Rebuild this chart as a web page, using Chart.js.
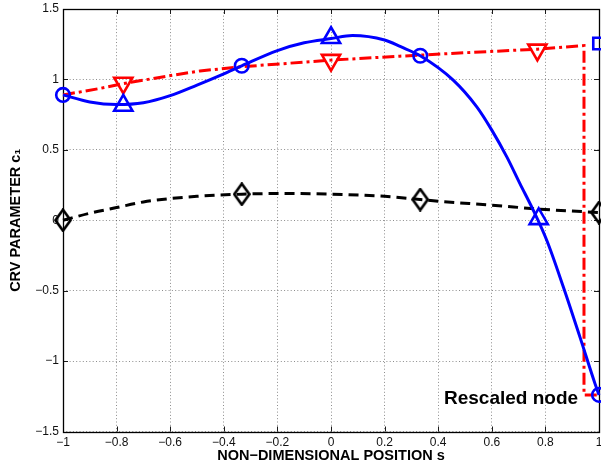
<!DOCTYPE html>
<html><head><meta charset="utf-8">
<script src="https://cdn.jsdelivr.net/npm/chart.js@4.4.0/dist/chart.umd.min.js"></script>
<style>html,body{margin:0;padding:0;background:#fff;overflow:hidden}#wrap{width:601px;height:466px}</style>
</head><body><div id="wrap"><canvas id="c" width="601" height="466"></canvas></div>
<script>
// ---- tick values / labels ----
const xTickValues = [-1, -0.8, -0.6, -0.4, -0.2, 0, 0.2, 0.4, 0.6, 0.8, 1];
const xTickLabels = ['−1', '−0.8', '−0.6', '−0.4', '−0.2', '0', '0.2', '0.4', '0.6', '0.8', '1'];
const yTickValues = [-1.5, -1, -0.5, 0, 0.5, 1, 1.5];
const yTickLabels = ['−1.5', '−1', '−0.5', '0', '0.5', '1', '1.5'];
const xTitle = 'NON−DIMENSIONAL POSITION s';
const yTitle = 'CRV PARAMETER c₁';
const noteText = 'Rescaled node';

// ---- blue solid curve ----
const blueS = [-1, -0.9, -0.8, -0.7, -0.6, -0.5, -0.4, -0.333, -0.2, -0.1, 0, 0.08, 0.2, 0.26, 0.333, 0.456, 0.544, 0.6, 0.656, 0.705, 0.755, 0.805, 0.867, 0.929, 0.985, 1];
const blueC = [0.89, 0.84, 0.822, 0.835, 0.885, 0.96, 1.04, 1.097, 1.205, 1.26, 1.29, 1.312, 1.28, 1.232, 1.168, 0.995, 0.805, 0.64, 0.45, 0.26, 0.07, -0.142, -0.474, -0.83, -1.16, -1.24];
const blueCircleS = [-1, -0.333, 0.333, 1];
const blueCircleC = [0.89, 1.097, 1.168, -1.24];
const blueTriS = [-0.775, 0, 0.775];
const blueTriC = [0.815, 1.296, 0.01];
const blueSquareS = [1];
const blueSquareC = [1.255];

// ---- red dash-dot line ----
const redS = [-1, -0.862, -0.775, -0.613, -0.489, -0.333, 0, 0.257, 0.506, 0.77, 0.944, 0.944, 1];
const redC = [0.89, 0.936, 0.97, 1.023, 1.06, 1.09, 1.137, 1.165, 1.19, 1.215, 1.24, -1.24, -1.24];
const redTriS = [-0.775, 0, 0.77];
const redTriC = [0.975, 1.137, 1.21];

// ---- black dashed curve ----
const blackS = [-1, -0.9, -0.8, -0.7, -0.6, -0.5, -0.333, -0.2, 0, 0.2, 0.333, 0.4, 0.6, 0.8, 1];
const blackC = [0, 0.05, 0.09, 0.13, 0.154, 0.17, 0.185, 0.19, 0.185, 0.17, 0.147, 0.135, 0.107, 0.076, 0.055];
const blackDiaS = [-1, -0.333, 0.333, 1];
const blackDiaC = [0, 0.185, 0.147, 0.055];

const pts = (xs, ys) => xs.map((x, i) => ({x: x, y: ys[i]}));

// tall diamond marker
const dia = document.createElement('canvas');
dia.width = 18; dia.height = 24;
(function(){
  const g = dia.getContext('2d');
  g.strokeStyle = '#000'; g.lineWidth = 2.6; g.lineJoin = 'miter';
  g.beginPath();
  g.moveTo(9, 1.5); g.lineTo(16.5, 12); g.lineTo(9, 22.5); g.lineTo(1.5, 12); g.closePath();
  g.stroke();
})();

const FONT = '"Liberation Sans", Arial, Helvetica, sans-serif';

const boxPlugin = {
  id: 'box',
  beforeDatasetsDraw(chart) {
    const {ctx, chartArea: a, scales} = chart;
    ctx.save();
    ctx.strokeStyle = '#1a1a1a';
    ctx.lineWidth = 1;
    ctx.beginPath();
    xTickValues.forEach(v => {
      const px = Math.round(scales.x.getPixelForValue(v)) + 0.5;
      ctx.moveTo(px, a.bottom); ctx.lineTo(px, a.bottom - 5);
      ctx.moveTo(px, a.top); ctx.lineTo(px, a.top + 5);
    });
    yTickValues.forEach(v => {
      const py = Math.round(scales.y.getPixelForValue(v)) + 0.5;
      ctx.moveTo(a.left, py); ctx.lineTo(a.left + 5, py);
      ctx.moveTo(a.right, py); ctx.lineTo(a.right - 5, py);
    });
    ctx.stroke();
    ctx.lineWidth = 1.3;
    ctx.strokeStyle = '#000';
    ctx.strokeRect(Math.round(a.left) + 0.5, Math.round(a.top) + 0.5, Math.round(a.right - a.left), Math.round(a.bottom - a.top));
    ctx.restore();
  },
  afterDraw(chart) {
    const {ctx, scales} = chart;
    ctx.save();
    ctx.font = 'bold 19px ' + FONT;
    ctx.fillStyle = '#000';
    ctx.textAlign = 'right';
    ctx.textBaseline = 'middle';
    ctx.fillText(noteText, scales.x.getPixelForValue(0.922), scales.y.getPixelForValue(-1.265));
    ctx.restore();
  }
};

new Chart(document.getElementById('c'), {
  type: 'scatter',
  data: {
    datasets: [
      {label: 'black', data: pts(blackS, blackC), showLine: true, borderColor: '#000', borderWidth: 3, borderDash: [10, 6], cubicInterpolationMode: 'monotone', pointRadius: 0, order: 6, clip: false},
      {label: 'blackDia', data: pts(blackDiaS, blackDiaC), showLine: false, pointStyle: dia, pointRadius: 8, order: 5, clip: false},
      {label: 'red', data: pts(redS, redC), showLine: true, borderColor: '#ff0000', borderWidth: 3, borderDash: [12, 4, 3, 4], tension: 0, pointRadius: 0, order: 4, clip: false},
      {label: 'redTri', data: pts(redTriS, redTriC), showLine: false, pointStyle: 'triangle', rotation: 180, pointRotation: 180, pointRadius: 10.5, borderWidth: 2.6, borderColor: '#ff0000', backgroundColor: 'rgba(0,0,0,0)', order: 3, clip: false},
      {label: 'blue', data: pts(blueS, blueC), showLine: true, borderColor: '#0000ff', borderWidth: 3, cubicInterpolationMode: 'monotone', pointRadius: 0, order: 2, clip: false},
      {label: 'blueCirc', data: pts(blueCircleS, blueCircleC), showLine: false, pointStyle: 'circle', pointRadius: 6.8, borderWidth: 2.6, borderColor: '#0000ff', backgroundColor: 'rgba(0,0,0,0)', order: 1, clip: false},
      {label: 'blueTri', data: pts(blueTriS, blueTriC), showLine: false, pointStyle: 'triangle', pointRadius: 10.5, borderWidth: 2.6, borderColor: '#0000ff', backgroundColor: 'rgba(0,0,0,0)', order: 1, clip: false},
      {label: 'blueSq', data: pts(blueSquareS, blueSquareC), showLine: false, pointStyle: 'rect', pointRadius: 8.1, borderWidth: 2.6, borderColor: '#0000ff', backgroundColor: 'rgba(0,0,0,0)', order: 1, clip: false}
    ]
  },
  options: {
    responsive: false,
    animation: false,
    devicePixelRatio: 1,
    layout: {autoPadding: false, padding: {top: 9, right: 2, left: 0, bottom: 0}},
    plugins: {legend: {display: false}, tooltip: {enabled: false}},
    scales: {
      x: {
        type: 'linear', min: -1, max: 1,
        afterBuildTicks: s => { s.ticks = xTickValues.map(v => ({value: v})); },
        afterFit: s => { s.height = 34.5; s.paddingLeft = 0; s.paddingRight = 0; },
        ticks: {callback: (v, i) => xTickLabels[i], font: {family: FONT, size: 12}, color: '#111', padding: 4, maxRotation: 0, autoSkip: false},
        grid: {color: 'rgba(0,0,0,0.45)', lineWidth: 1, drawTicks: false, tickLength: 0},
        border: {display: false, dash: [1, 2.3]},
        title: {display: true, text: xTitle, font: {family: FONT, size: 14.5, weight: 'bold'}, color: '#000', padding: {top: 0, bottom: 1}}
      },
      y: {
        type: 'linear', min: -1.5, max: 1.5,
        afterBuildTicks: s => { s.ticks = yTickValues.map(v => ({value: v})); },
        afterFit: s => { s.width = 63; s.paddingTop = 0; s.paddingBottom = 0; },
        ticks: {callback: (v, i) => yTickLabels[i], font: {family: FONT, size: 12}, color: '#111', padding: 4, autoSkip: false},
        grid: {color: 'rgba(0,0,0,0.45)', lineWidth: 1, drawTicks: false, tickLength: 0},
        border: {display: false, dash: [1, 2.3]},
        title: {display: true, text: yTitle, font: {family: FONT, size: 14.5, weight: 'bold'}, color: '#000', padding: {top: 7, bottom: 0}}
      }
    }
  },
  plugins: [boxPlugin]
});
</script></body></html>
